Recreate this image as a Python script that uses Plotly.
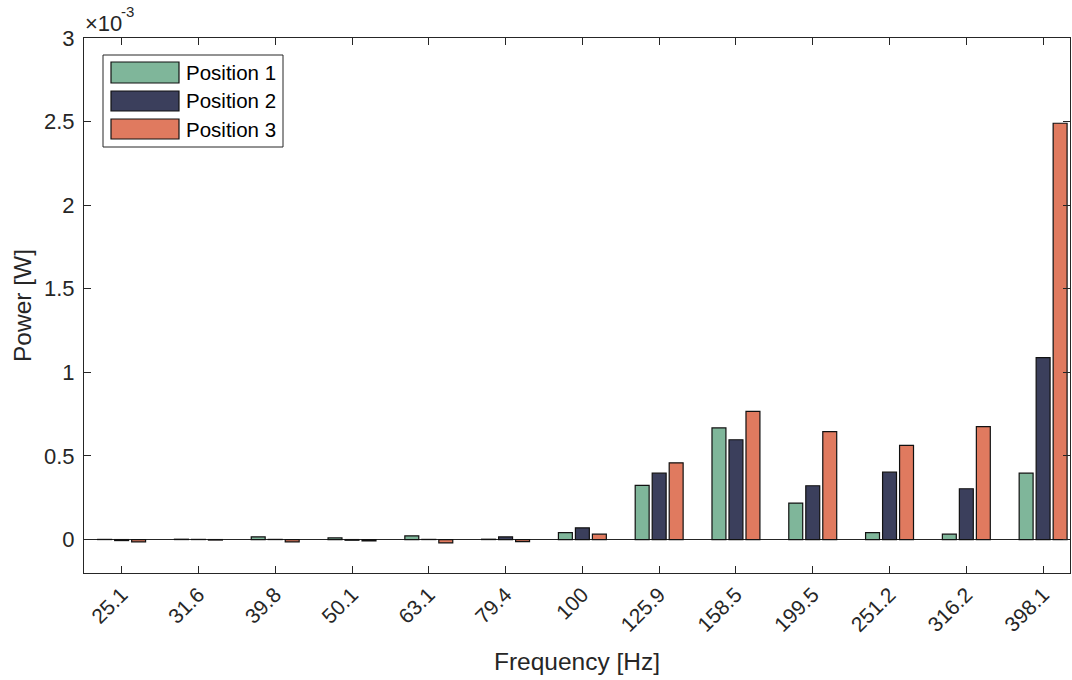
import plotly.graph_objects as go

categories = ["25.1", "31.6", "39.8", "50.1", "63.1", "79.4", "100",
              "125.9", "158.5", "199.5", "251.2", "316.2", "398.1"]
series_names = ["Position 1", "Position 2", "Position 3"]
pos1 = [0.001, 0.002, 0.016, 0.010, 0.022, 0.002, 0.042, 0.324, 0.668, 0.218, 0.042, 0.032, 0.397]
pos2 = [-0.006, 0.001, 0.001, -0.004, 0.001, 0.016, 0.070, 0.397, 0.597, 0.322, 0.403, 0.304, 1.088]
pos3 = [-0.014, -0.003, -0.014, -0.008, -0.020, -0.012, 0.032, 0.459, 0.767, 0.646, 0.563, 0.676, 2.490]
colors = ["#7fb69a", "#3b3f5c", "#e07a5f"]
yticks = [0, 0.5, 1, 1.5, 2, 2.5, 3]

FONT = "Liberation Sans, Arial, sans-serif"
TXT = "#262626"

fig = go.Figure()
x_idx = list(range(len(categories)))
for name, vals, col in zip(series_names, [pos1, pos2, pos3], colors):
    fig.add_trace(go.Bar(
        x=x_idx, y=vals, name=name,
        marker=dict(color=col, line=dict(color="#111111", width=1.2)),
        showlegend=False,
    ))

fig.update_layout(
    width=1072, height=680,
    margin=dict(l=84, r=2, t=38, b=107),
    paper_bgcolor="white", plot_bgcolor="white",
    barmode="group", bargap=0.336, bargroupgap=0.18,
    font=dict(family=FONT, size=22, color=TXT),
    xaxis=dict(
        range=[-0.49, 12.35], automargin=False,
        tickmode="array", tickvals=x_idx, ticktext=categories,
        tickangle=-45,
        ticks="inside", ticklen=7, tickcolor="#262626",
        showline=True, linecolor="#262626", linewidth=1, mirror="ticks",
        showgrid=False, zeroline=False,
        title=dict(text="Frequency [Hz]", font=dict(size=24.5, color=TXT), standoff=17),
        tickfont=dict(size=21, color=TXT),
    ),
    yaxis=dict(
        range=[-0.2, 3.0], automargin=False,
        tickmode="array", tickvals=yticks, ticktext=[("%g" % v) for v in yticks],
        ticks="inside", ticklen=7, tickcolor="#262626",
        ticklabelstandoff=4,
        showline=True, linecolor="#262626", linewidth=1, mirror="ticks",
        showgrid=False,
        zeroline=True, zerolinecolor="#262626", zerolinewidth=1,
        title=dict(text="Power [W]", font=dict(size=24.5, color=TXT), standoff=5),
        tickfont=dict(size=22, color=TXT),
    ),
)

# screen pixel -> paper conversion (plot area at x 84..1070, y 38..573)
L, T, W, H = 84, 38, 986, 535
def px(x):
    return (x - L) / W
def py(y):
    return 1 - (y - T) / H

# exponent label
fig.add_annotation(
    xref="paper", yref="paper", x=px(84), y=py(23), xanchor="left", yanchor="middle",
    text="\u00d710", showarrow=False, font=dict(size=22, color=TXT), borderpad=0,
)
fig.add_annotation(
    xref="paper", yref="paper", x=px(120), y=py(11), xanchor="left", yanchor="middle",
    text="-3", showarrow=False, font=dict(size=15, color=TXT), borderpad=0,
)

# custom legend
fig.add_shape(type="rect", xref="paper", yref="paper",
              x0=px(103), x1=px(283), y0=py(55), y1=py(147),
              line=dict(color="#262626", width=1), fillcolor="white", layer="above")
rows = [(62, 83), (91, 111), (119, 139)]
for (y0, y1), name, col in zip(rows, series_names, colors):
    fig.add_shape(type="rect", xref="paper", yref="paper",
                  x0=px(111), x1=px(179), y0=py(y0), y1=py(y1),
                  line=dict(color="#111111", width=1.2), fillcolor=col, layer="above")
    fig.add_annotation(xref="paper", yref="paper", x=px(184), y=py((y0 + y1) / 2),
                       xanchor="left", yanchor="middle", text=name, showarrow=False,
                       font=dict(size=20.5, color="#000000"))

# remove the default 8px page margin so the figure fills the window exactly
fig.write_html("out.html", config={"displayModeBar": False},
               post_script="document.body.style.margin='0';document.body.style.overflow='hidden';")
